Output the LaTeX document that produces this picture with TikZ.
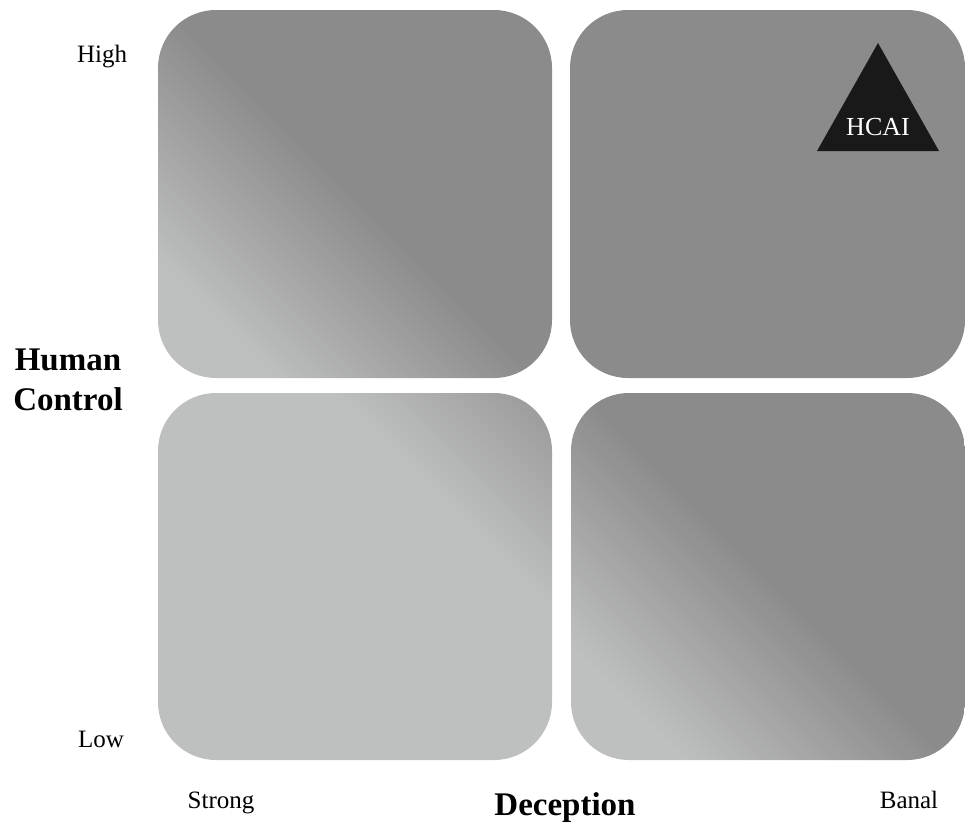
\documentclass[tikz,border=0pt]{standalone}
\usepackage{fontspec}
\setmainfont{Liberation Serif}
\definecolor{lightg}{RGB}{190,191,191}
\definecolor{darkg}{RGB}{139,139,139}
\pgfdeclarehorizontalshading{cornerlight}{100bp}{color(0bp)=(lightg); color(25bp)=(lightg); color(50bp)=(darkg); color(100bp)=(darkg)}
\pgfdeclarehorizontalshading{mostlylight}{100bp}{color(0bp)=(lightg); color(65bp)=(lightg); color(92bp)=(darkg); color(100bp)=(darkg)}
\tikzset{
  quad/.style={rounded corners=58pt},
  lbl/.style={anchor=base, inner sep=0pt, font=\fontsize{25}{30}\selectfont},
  axislbl/.style={anchor=base, inner sep=0pt, font=\fontsize{33}{40}\selectfont\bfseries, align=center},
}
\begin{document}
\begin{tikzpicture}[x=1pt,y=-1pt]
\useasboundingbox (0,0) rectangle (965,822);
% quadrants
\shade[quad, shading=cornerlight, shading angle=45] (158,10) rectangle (552,378);
\fill[quad, darkg] (570,10) rectangle (965,378);
\shade[quad, shading=mostlylight, shading angle=45] (158,393) rectangle (552,760);
\shade[quad, shading=cornerlight, shading angle=45] (571,393) rectangle (965,760);
% triangle
\fill[black!90] (878,43) -- (817,151) -- (939,151) -- cycle;
\node[lbl, text=white, font=\fontsize{26}{30}\selectfont] (hcai) at (878,135) {HCAI};
% labels
\node[lbl] (high) at (102,62) {High};
\node[lbl] (low) at (101,747) {Low};
\node[lbl] (strong) at (221,808) {Strong};
\node[lbl] (banal) at (909,808) {Banal};
\node[axislbl] (dec) at (565,815) {Deception};
\node[axislbl] (hc) at (68,410) {Human\\Control};
\end{tikzpicture}
\end{document}
